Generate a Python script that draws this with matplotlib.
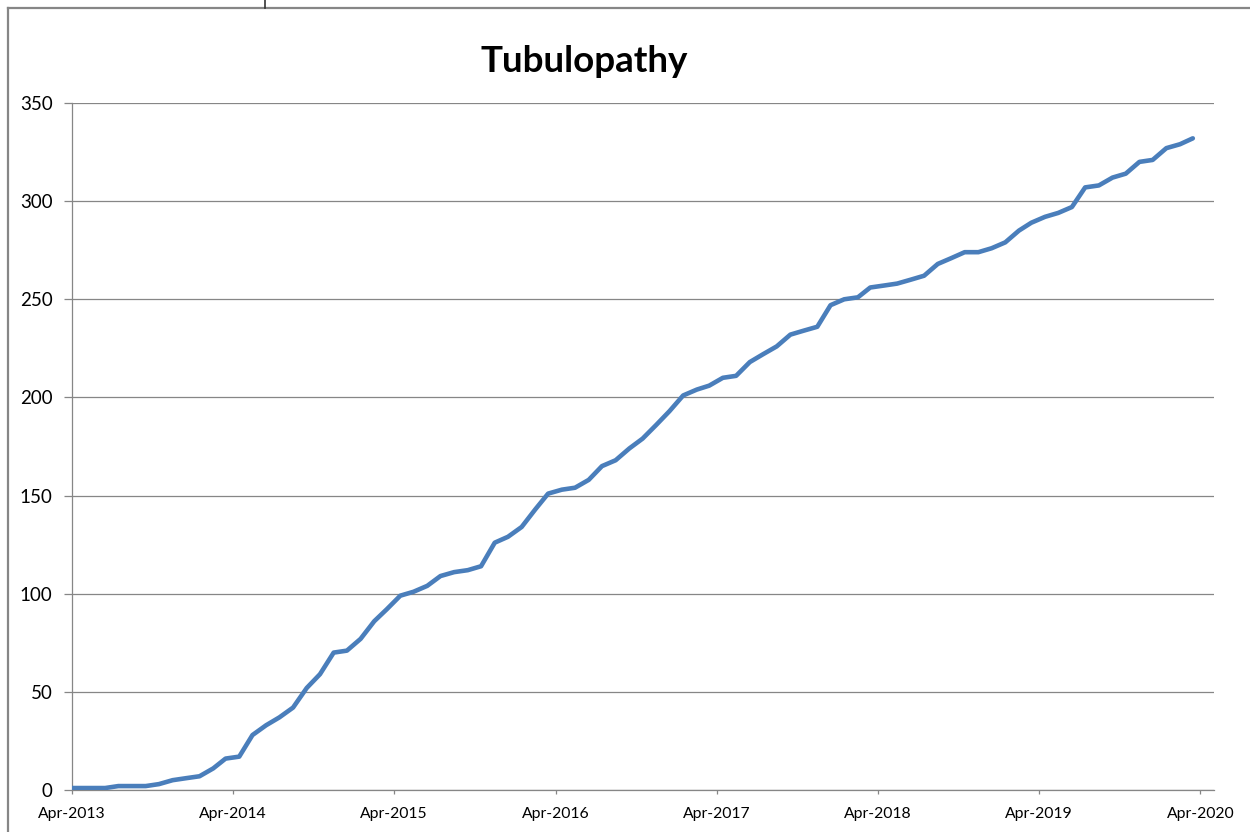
import numpy as np
import pandas as pd
import matplotlib
matplotlib.use("Agg")
import matplotlib.pyplot as plt
import matplotlib.dates as mdates
from matplotlib.lines import Line2D

# cumulative cases, one point per month (first point at start of Apr-2013, rest mid-month)
first_date = pd.Timestamp("2013-04-01")
months = pd.date_range("2013-05-01", "2020-03-01", freq="MS") + pd.Timedelta(days=14)
dates = [first_date] + list(months)

counts = [
    1, 1, 1, 2, 2, 2, 3, 5, 6, 7, 11, 16,
    17, 28, 33, 37, 42, 52, 59, 70, 71, 77, 86, 92,
    99, 101, 104, 109, 111, 112, 114, 126, 129, 134, 143, 151,
    153, 154, 158, 165, 168, 174, 179, 186, 193, 201, 204, 206,
    210, 211, 218, 222, 226, 232, 234, 236, 247, 250, 251, 256,
    257, 258, 260, 262, 268, 271, 274, 274, 276, 279, 285, 289,
    292, 294, 297, 307, 308, 312, 314, 320, 321, 327, 329, 332,
]

title = "Tubulopathy"
y_ticks = [0, 50, 100, 150, 200, 250, 300, 350]
x_tick_dates = pd.date_range("2013-04-01", "2020-04-01", freq="12MS")

grey = "#868686"
W, H = 1250, 832

fig = plt.figure(figsize=(W / 100, H / 100), dpi=100)
plt.rcParams["font.family"] = ["Lato", "DejaVu Sans"]

ax = fig.add_axes([72 / W, 1 - 790 / H, (1214 - 72) / W, (790 - 103) / H])
ax.plot(dates, counts, color="#4A7EBB", linewidth=3.3, solid_capstyle="round",
        solid_joinstyle="round", zorder=3)

ax.set_ylim(0, 350)
ax.set_yticks(y_ticks)
ax.set_xlim(pd.Timestamp("2013-04-01"), pd.Timestamp("2020-05-02"))
ax.set_xticks(x_tick_dates)
ax.xaxis.set_major_formatter(mdates.DateFormatter("%b-%Y"))

ax.grid(axis="y", color=grey, linewidth=0.9)
ax.set_axisbelow(True)
for side in ["top", "right"]:
    ax.spines[side].set_visible(False)
for side in ["left", "bottom"]:
    ax.spines[side].set_color(grey)
    ax.spines[side].set_linewidth(0.9)

ax.tick_params(axis="y", length=6, width=0.9, color=grey, pad=8, labelsize=13.5)
ax.tick_params(axis="x", length=3, width=0.9, color=grey, pad=9, labelsize=11.3)

fig.text(584 / W, 1 - 62 / H, title, ha="center", va="center",
         fontsize=26.5, fontweight="bold")

# chart frame
fig.add_artist(Line2D([8 / W, 8 / W], [0, 1 - 8 / H], color=grey, linewidth=1.6))
fig.add_artist(Line2D([8 / W, 1], [1 - 8 / H, 1 - 8 / H], color=grey, linewidth=1.6))
fig.add_artist(Line2D([265 / W, 265 / W], [1, 1 - 8 / H], color="#333333", linewidth=1.2))

fig.savefig("out.png", dpi=100)
